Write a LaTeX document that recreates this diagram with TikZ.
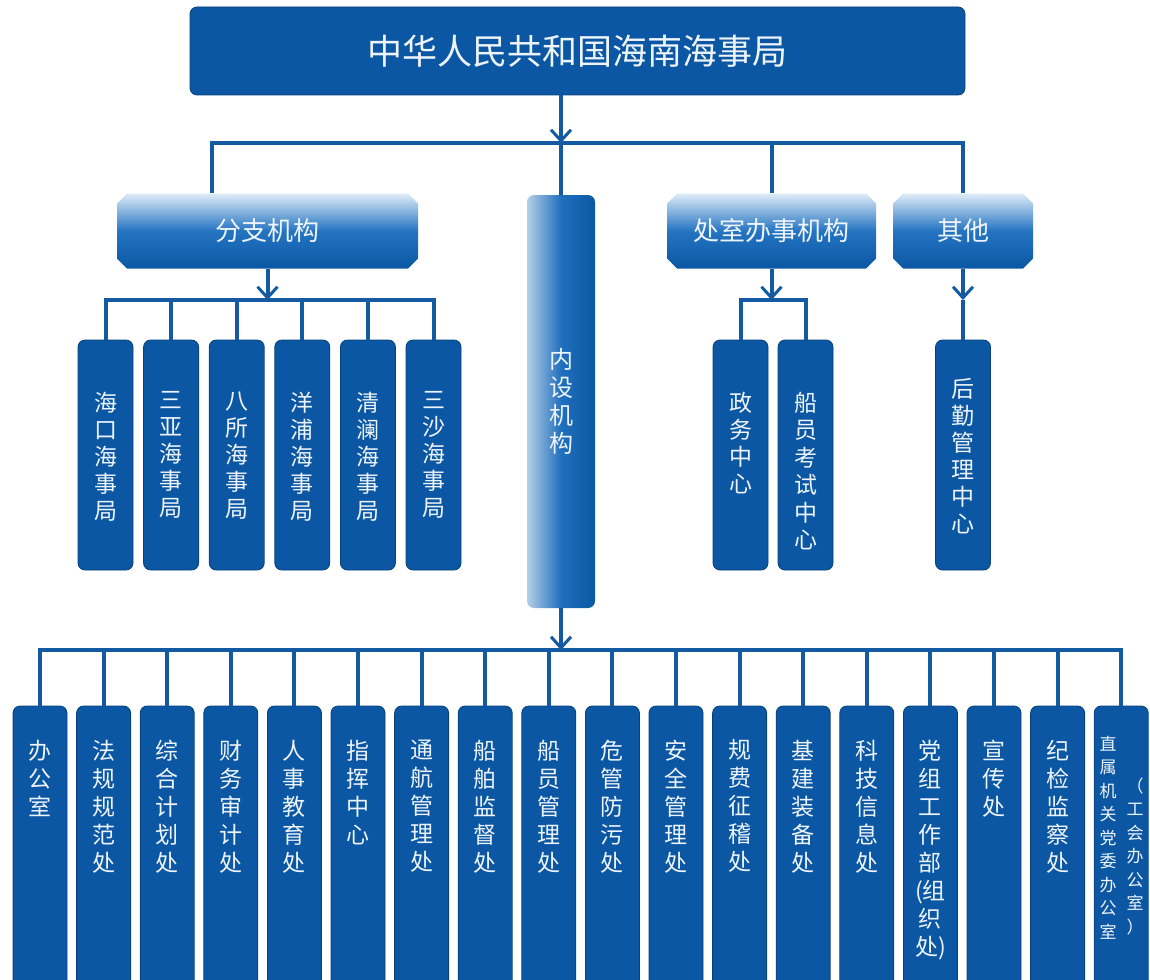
\documentclass[tikz,border=0pt]{standalone}
\usepackage{fontspec}
\newfontfamily\cjk{Noto Sans CJK SC}
\usetikzlibrary{positioning,arrows.meta,shapes.misc}

\definecolor{boxblue}{RGB}{11,87,163}
\definecolor{lineblue}{RGB}{20,90,162}
\definecolor{paleblue}{RGB}{222,236,248}
\definecolor{midblue}{RGB}{36,116,194}
\definecolor{txtwhite}{RGB}{238,244,251}

\tikzset{
  unit/.style = {rectangle, rounded corners = 7pt, fill = boxblue, draw = boxblue!75!black, line width = .8pt, inner sep = 0pt},
  head/.style = {unit, minimum width = 775pt, minimum height = 88pt, text = txtwhite, font = \cjk\fontsize{35}{40}\selectfont},
  group/.style = {chamfered rectangle, chamfered rectangle xsep = 5pt, chamfered rectangle ysep = 5pt, inner sep = 0pt,
    minimum height = 75pt, top color = paleblue, bottom color = boxblue, middle color = midblue,
    text = txtwhite, font = \cjk\fontsize{26}{30}\selectfont},
  column/.style = {unit, minimum width = 55pt, minimum height = 230pt},
  dept/.style = {unit, minimum width = 54pt, minimum height = 290pt},
  vtext/.style = {align = center, inner sep = 0pt, text = txtwhite, font = \cjk\fontsize{23}{28}\selectfont},
  vsmall/.style = {vtext, font = \cjk\fontsize{17}{23.5}\selectfont},
  conn/.style = {draw = lineblue, line width = 4pt},
  tip/.style = {-{Straight Barb[length = 11pt, width = 20pt, line width = 3pt]}}
}

\begin{document}
\begin{tikzpicture}[x = 1pt, y = -1pt]
\useasboundingbox (0,0) rectangle (1150,979);
\clip (0,0) rectangle (1150,979);

\coordinate (bus1) at (0,143);
\coordinate (bus2) at (0,300);
\coordinate (bus3) at (0,650);

\node[head] (top) at (577.5,51) {中华人民共和国海南海事局};
\node[group, minimum width = 301pt] (fenzhi) at (267.5,231) {分支机构};
\node[rectangle, rounded corners = 7pt, minimum width = 68pt, minimum height = 413pt, inner sep = 0pt,
  left color = paleblue!80!boxblue, right color = boxblue, middle color = midblue!85!boxblue,
  align = center, text = txtwhite, font = \cjk\fontsize{24}{28}\selectfont] (neishe) at (561,401.5) {内\\设\\机\\构};
\node[group, minimum width = 209pt] (chushi) at (771.5,231) {处室办事机构};
\node[group, minimum width = 140pt] (qita) at (963,231) {其他};

% branches
\foreach \name [count = \i] in {海\\口\\海\\事\\局, 三\\亚\\海\\事\\局, 八\\所\\海\\事\\局,
  洋\\浦\\海\\事\\局, 清\\澜\\海\\事\\局, 三\\沙\\海\\事\\局} {
  \node[column] (fj\i) at ({105.5+65.6*(\i-1)},455) {};
  \node[vtext, anchor = north, font = \cjk\fontsize{23}{27}\selectfont] (fjt\i) at ([yshift = -52pt]fj\i.north) {\name};
}
\node[column] (zw) at (740.5,455) {};
\node[vtext, anchor = north, font = \cjk\fontsize{23}{27}\selectfont] (zwt) at ([yshift = -52pt]zw.north) {政\\务\\中\\心};
\node[column] (cy) at (805.5,455) {};
\node[vtext, anchor = north, font = \cjk\fontsize{23}{27.5}\selectfont] (cyt) at ([yshift = -52pt]cy.north) {船\\员\\考\\试\\中\\心};
\node[column] (hq) at (963,455) {};
\node[vtext, anchor = north, font = \cjk\fontsize{23}{27}\selectfont] (hqt) at ([yshift = -39pt]hq.north) {后\\勤\\管\\理\\中\\心};

% departments
\foreach \name [count = \i] in {办\\公\\室, 法\\规\\规\\范\\处, 综\\合\\计\\划\\处, 财\\务\\审\\计\\处,
  人\\事\\教\\育\\处, 指\\挥\\中\\心, 通\\航\\管\\理\\处, 船\\舶\\监\\督\\处, 船\\员\\管\\理\\处,
  危\\管\\防\\污\\处, 安\\全\\管\\理\\处, 规\\费\\征\\稽\\处, 基\\建\\装\\备\\处, 科\\技\\信\\息\\处,
  {党\\组\\工\\作\\部\\(组\\织\\处)}, 宣\\传\\处, 纪\\检\\监\\察\\处, {}} {
  \node[dept] (d\i) at ({40+63.6*(\i-1)},851) {};
  \node[vtext, anchor = north] (dt\i) at ([yshift = -34pt]d\i.north) {\name};
}
\node[vsmall, anchor = north] (dt18a) at ([xshift = -13pt, yshift = -30pt]d18.north) {直\\属\\机\\关\\党\\委\\办\\公\\室};
\node[vsmall, anchor = north] (dt18b) at ([xshift = 14pt, yshift = -72pt]d18.north) {（\\工\\会\\办\\公\\室\\）};

% connectors
\draw[conn, tip] (top.south -| neishe.north) -- (neishe.north |- bus1);
\draw[conn] ([xshift = -55.5pt]fenzhi.north) |- (qita.north |- bus1) -- (qita.north);
\draw[conn] (neishe.north) -- (neishe.north |- bus1);
\draw[conn] (chushi.north) -- (chushi.north |- bus1);

\draw[conn, tip] (fenzhi.south) -- (fenzhi.south |- bus2);
\draw[conn] (fj1.north) |- (fj6.north |- bus2) -- (fj6.north);
\foreach \i in {2,...,5}
  \draw[conn] (fj\i.north) -- (fj\i.north |- bus2);

\draw[conn, tip] (chushi.south) -- (chushi.south |- bus2);
\draw[conn] (zw.north) |- (cy.north |- bus2) -- (cy.north);

\draw[conn, tip] (qita.south) -- (qita.south |- bus2);
\draw[conn] (qita.south |- bus2) -- (hq.north);

\draw[conn, tip] (neishe.south) -- (neishe.south |- bus3);
\draw[conn] (d1.north) |- (d18.north |- bus3) -- (d18.north);
\foreach \i in {2,...,17}
  \draw[conn] (d\i.north) -- (d\i.north |- bus3);
\end{tikzpicture}
\end{document}
